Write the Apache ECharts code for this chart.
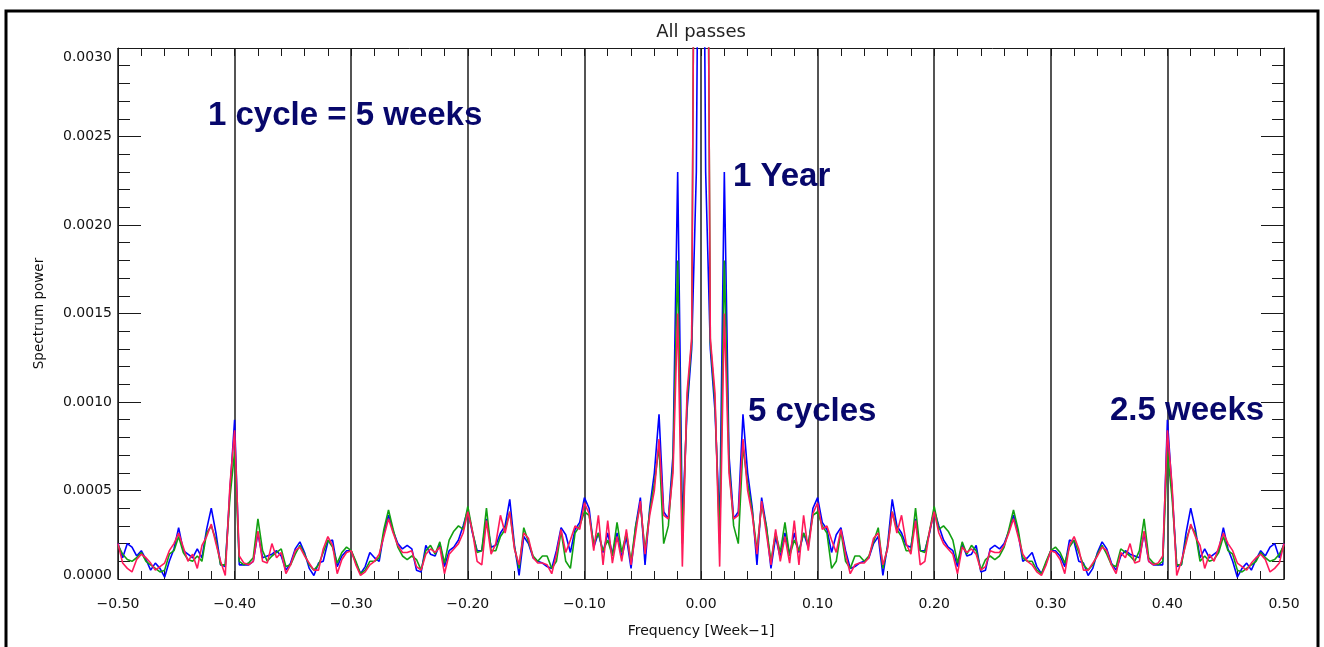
<!DOCTYPE html>
<html>
<head>
<meta charset="utf-8">
<title>All passes</title>
<script src="https://cdn.jsdelivr.net/npm/echarts@6/dist/echarts.min.js"></script>
<style>
  html, body { margin: 0; padding: 0; background: #fff; }
  #chart { width: 1324px; height: 647px; }
</style>
</head>
<body>
<div id="chart"></div>
<script>
// spectrum power in units of 1e-4, sampled every 0.004 week^-1 from -0.5 to 0.5
const FREQ_STEP = 0.004;

const blueSpec = [
  2.0,1.2,2.0,1.8,1.3,1.6,1.1,0.5,0.9,0.6,
  0.1,1.0,1.7,2.9,1.6,1.4,1.2,1.7,1.2,2.8,
  4.0,2.6,0.8,0.7,5.0,9.0,0.8,0.8,0.8,1.0,
  2.6,1.2,1.3,1.4,1.6,1.3,0.5,0.9,1.7,2.1,
  1.5,0.6,0.2,0.9,1.0,2.1,2.2,0.7,1.3,1.6,
  1.6,0.9,0.3,0.7,1.5,1.2,1.0,2.6,3.6,2.7,
  2.0,1.7,1.9,1.7,0.5,0.4,1.9,1.4,1.3,2.0,
  0.7,1.6,1.8,2.2,3.0,3.9,2.6,1.6,1.6,3.4,
  1.8,1.9,2.6,3.0,4.5,1.9,0.2,2.4,2.0,1.2,
  1.0,0.9,0.7,0.6,1.6,2.9,2.5,1.5,2.8,3.2,
  4.6,4.0,1.8,2.6,1.5,2.6,1.4,2.6,1.2,2.4,
  0.6,3.0,4.6,0.8,4.0,6.0,9.3,3.8,3.4,7.0,
  23.0,3.0,9.5,13.0,23.0,
  60,
  23.0,13.0,9.5,3.0,23.0,
  7.0,3.4,3.8,9.3,6.0,4.0,0.8,4.6,3.0,0.6,
  2.4,1.2,2.6,1.4,2.6,1.5,2.6,1.8,4.0,4.6,
  3.2,2.8,1.5,2.5,2.9,1.6,0.6,0.7,0.9,1.0,
  1.2,2.0,2.4,0.2,1.9,4.5,3.0,2.6,1.9,1.8,
  3.4,1.6,1.6,2.6,3.9,3.0,2.2,1.8,1.6,0.7,
  2.0,1.3,1.4,1.9,0.4,0.5,1.7,1.9,1.7,2.0,
  2.7,3.6,2.6,1.0,1.2,1.5,0.7,0.3,0.9,1.6,
  1.6,1.3,0.7,2.2,2.1,1.0,0.9,0.2,0.6,1.5,
  2.1,1.7,0.9,0.5,1.3,1.6,1.4,1.3,1.2,2.6,
  1.0,0.8,0.8,0.8,9.0,5.0,0.7,0.8,2.6,4.0,
  2.8,1.2,1.7,1.2,1.4,1.6,2.9,1.7,1.0,0.1,
  0.6,0.9,0.5,1.1,1.6,1.3,1.8,2.0,1.2,2.0,
];

const greenSpec = [
  1.9,1.4,1.1,1.0,1.2,1.5,1.0,0.8,0.6,0.4,
  0.5,1.4,1.6,2.4,1.5,1.1,1.0,1.3,1.0,2.6,
  3.0,2.2,0.8,0.8,4.6,7.2,1.0,0.8,0.9,1.2,
  3.4,1.6,1.0,1.3,1.5,1.7,0.7,0.8,1.4,1.9,
  1.4,0.8,0.5,0.8,1.5,2.2,1.8,0.9,1.5,1.8,
  1.6,1.0,0.3,0.5,1.0,1.0,1.2,2.8,3.9,2.8,
  1.8,1.3,1.1,1.3,1.1,0.5,1.6,1.9,1.4,2.1,
  0.9,2.2,2.7,3.0,2.8,4.1,2.7,1.5,1.6,4.0,
  1.6,1.6,2.4,2.8,3.8,1.8,0.6,2.9,2.1,1.3,
  1.0,1.3,1.3,0.6,1.0,2.7,1.0,0.6,2.6,3.0,
  3.8,3.6,2.0,2.6,1.6,2.2,1.3,3.2,1.5,2.6,
  1.0,3.0,4.2,1.6,3.8,5.4,7.5,2.0,3.0,6.5,
  18.0,2.0,10.0,13.4,60,
  60,
  60,13.4,10.0,2.0,18.0,
  6.5,3.0,2.0,7.5,5.4,3.8,1.6,4.2,3.0,1.0,
  2.6,1.5,3.2,1.3,2.2,1.6,2.6,2.0,3.6,3.8,
  3.0,2.6,0.6,1.0,2.7,1.0,0.6,1.3,1.3,1.0,
  1.3,2.1,2.9,0.6,1.8,3.8,2.8,2.4,1.6,1.6,
  4.0,1.6,1.5,2.7,4.1,2.8,3.0,2.7,2.2,0.9,
  2.1,1.4,1.9,1.6,0.5,1.1,1.3,1.1,1.3,1.8,
  2.8,3.9,2.8,1.2,1.0,1.0,0.5,0.3,1.0,1.6,
  1.8,1.5,0.9,1.8,2.2,1.5,0.8,0.5,0.8,1.4,
  1.9,1.4,0.8,0.7,1.7,1.5,1.3,1.0,1.6,3.4,
  1.2,0.9,0.8,1.0,7.2,4.6,0.8,0.8,2.2,3.0,
  2.6,1.0,1.3,1.0,1.1,1.5,2.4,1.6,1.4,0.5,
  0.4,0.6,0.8,1.0,1.5,1.2,1.0,1.1,1.4,1.9,
];

const redSpec = [
  2.0,0.9,0.6,0.4,1.1,1.4,1.2,0.9,0.5,0.7,
  0.9,1.6,2.0,2.6,1.8,1.0,1.4,0.6,1.9,2.4,
  3.1,2.0,1.0,0.2,5.3,8.4,1.3,0.9,0.8,1.0,
  2.7,1.0,0.9,2.0,1.2,1.5,0.3,0.8,1.6,1.8,
  1.3,0.9,0.5,0.5,1.7,2.4,1.9,0.3,1.1,1.5,
  1.6,0.8,0.2,0.4,0.8,1.0,1.4,2.4,3.4,2.6,
  1.9,1.5,1.5,1.6,0.7,0.5,1.4,1.7,1.5,1.8,
  0.3,1.4,1.7,2.0,2.6,3.8,2.7,1.0,0.8,3.3,
  1.4,2.0,3.6,2.6,3.8,1.7,0.8,2.6,2.3,1.2,
  0.9,0.9,0.8,0.3,1.4,2.8,1.5,2.2,3.0,2.8,
  4.3,3.7,1.6,3.6,0.8,3.3,0.9,2.4,1.0,2.8,
  0.8,2.6,4.4,1.4,3.6,5.0,7.9,3.6,3.4,6.0,
  15.0,0.7,10.5,13.6,60,
  60,
  60,13.6,10.5,0.7,15.0,
  6.0,3.4,3.6,7.9,5.0,3.6,1.4,4.4,2.6,0.8,
  2.8,1.0,2.4,0.9,3.3,0.8,3.6,1.6,3.7,4.3,
  2.8,3.0,2.2,1.5,2.8,1.4,0.3,0.8,0.9,0.9,
  1.2,2.3,2.6,0.8,1.7,3.8,2.6,3.6,2.0,1.4,
  3.3,0.8,1.0,2.7,3.8,2.6,2.0,1.7,1.4,0.3,
  1.8,1.5,1.7,1.4,0.5,0.7,1.6,1.5,1.5,1.9,
  2.6,3.4,2.4,1.4,1.0,0.8,0.4,0.2,0.8,1.6,
  1.5,1.1,0.3,1.9,2.4,1.7,0.5,0.5,0.9,1.3,
  1.8,1.6,0.8,0.3,1.5,1.2,2.0,0.9,1.0,2.7,
  1.0,0.8,0.9,1.3,8.4,5.3,0.2,1.0,2.0,3.1,
  2.4,1.9,0.6,1.4,1.0,1.8,2.6,2.0,1.6,0.9,
  0.7,0.5,0.9,1.2,1.4,1.1,0.4,0.6,0.9,2.0,
];

const annotations = [
  { text: "1 cycle = 5 weeks", x: 208, y: 116 },
  { text: "1 Year", x: 733, y: 177 },
  { text: "5 cycles", x: 748, y: 412 },
  { text: "2.5 weeks", x: 1110, y: 411 },
];

const AXIS_COLOR = "#1a1a1a";
const LABEL_FONT = "DejaVu Sans";
const NOTE_FONT = "Liberation Sans";
const Y_MAX = 30;

function toPairs(values) {
  return values.map((v, i) => [Number((-0.5 + FREQ_STEP * i).toFixed(3)), v]);
}

function formatFreq(value) {
  const abs = Math.abs(value).toFixed(2);
  return value < -1e-9 ? "\u2212" + abs : abs;
}

function formatPower(value) {
  const text = (value / 10000).toFixed(4);
  if (value >= Y_MAX) return `{top|${text}}`;
  if (value <= 0) return `{bot|${text}}`;
  return text;
}

const chart = echarts.init(document.getElementById("chart"), null, { renderer: "canvas" });

const labelStyle = { fontFamily: LABEL_FONT, fontSize: 14, color: "#111" };

const xBase = {
  type: "value",
  min: -0.5,
  max: 0.5,
  interval: 0.1,
  axisLine: { show: true, onZero: false, lineStyle: { color: AXIS_COLOR, width: 1 } },
  axisTick: { show: true, inside: true, length: 8, lineStyle: { color: AXIS_COLOR } },
  minorTick: { show: true, splitNumber: 5, length: 8, lineStyle: { color: AXIS_COLOR, width: 1 } },
};

const yBase = {
  type: "value",
  min: 0,
  max: Y_MAX,
  interval: 5,
  axisLine: { show: true, onZero: false, lineStyle: { color: AXIS_COLOR, width: 1 } },
  axisTick: { show: true, inside: true, length: 23, lineStyle: { color: AXIS_COLOR } },
  minorTick: { show: true, splitNumber: 5, length: 12, lineStyle: { color: AXIS_COLOR, width: 1 } },
  splitLine: { show: false },
};

function lineSeries(name, color, values, z) {
  return {
    name,
    type: "line",
    data: toPairs(values),
    showSymbol: false,
    symbol: "none",
    clip: true,
    z,
    lineStyle: { color, width: 1.6 },
    emphasis: { disabled: true },
  };
}

chart.setOption({
  animation: false,
  backgroundColor: "#fff",
  grid: { left: 118, right: 40, top: 48, bottom: 68, containLabel: false },
  xAxis: [
    {
      ...xBase,
      position: "bottom",
      name: "Frequency [Week\u22121]",
      nameLocation: "middle",
      nameGap: 45,
      nameTextStyle: { fontFamily: LABEL_FONT, fontSize: 14, color: "#111" },
      axisLabel: { ...labelStyle, formatter: formatFreq, margin: 18 },
      splitLine: { show: true, lineStyle: { color: "#2a2a2a", width: 1.6 } },
    },
    {
      ...xBase,
      position: "top",
      axisLabel: { show: false },
      splitLine: { show: false },
    },
  ],
  yAxis: [
    {
      ...yBase,
      position: "left",
      name: "Spectrum power",
      nameLocation: "middle",
      nameGap: 72,
      nameTextStyle: { fontFamily: LABEL_FONT, fontSize: 13.5, color: "#111" },
      axisLabel: {
        ...labelStyle,
        formatter: formatPower,
        margin: 6,
        rich: {
          top: { ...labelStyle, padding: [18, 0, 0, 0] },
          bot: { ...labelStyle, padding: [0, 0, 8, 0] },
        },
      },
    },
    {
      ...yBase,
      position: "right",
      axisLabel: { show: false },
    },
  ],
  series: [
    lineSeries("blue", "#0000ff", blueSpec, 2),
    lineSeries("green", "#12a012", greenSpec, 3),
    lineSeries("red", "#ff1a5a", redSpec, 4),
  ],
  graphic: [
    {
      type: "rect",
      silent: true,
      shape: { x: 6, y: 11, width: 1312, height: 680 },
      style: { fill: "none", stroke: "#000", lineWidth: 3 },
      z: 100,
    },
    {
      // title centred over the plot area rather than the whole canvas
      type: "text",
      silent: true,
      x: 701,
      y: 32,
      z: 100,
      style: {
        text: "All passes",
        fill: "#222",
        font: `18px "${LABEL_FONT}"`,
        align: "center",
        verticalAlign: "middle",
      },
    },
    ...annotations.map((a) => ({
      type: "text",
      silent: true,
      x: a.x,
      y: a.y,
      z: 100,
      style: {
        text: a.text,
        fill: "#07076b",
        font: `bold 33px "${NOTE_FONT}"`,
        verticalAlign: "middle",
      },
    })),
  ],
});
</script>
</body>
</html>
